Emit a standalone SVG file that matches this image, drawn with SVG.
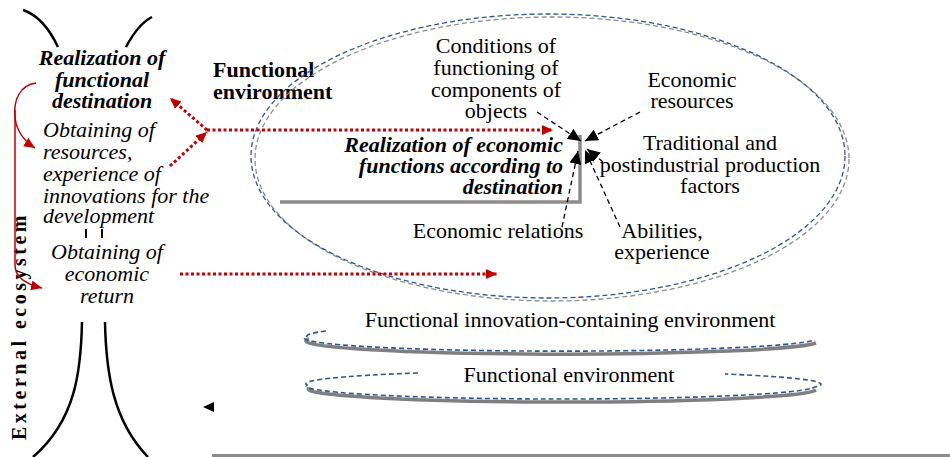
<svg xmlns="http://www.w3.org/2000/svg" width="950" height="457" viewBox="0 0 950 457">
<style>
text{font-family:"Liberation Serif","Times New Roman",serif;fill:#000}
.r{font-size:22px}
.bi{font-size:22px;font-weight:bold;font-style:italic}
.it{font-size:22px;font-style:italic}
.b{font-size:22px;font-weight:bold}
.blk{fill:none;stroke:#000;stroke-width:2.5}
.dot{fill:none;stroke:#c00000;stroke-width:3;stroke-dasharray:3 2.5}
.thin{fill:none;stroke:#c00000;stroke-width:1.5}
.dash{fill:none;stroke:#000;stroke-width:1.3;stroke-dasharray:5 3.5}
.eb{fill:none;stroke:#2f5597;stroke-width:1.3;stroke-dasharray:5 3}
.eg{fill:none;stroke:#8c8c8c;stroke-width:1.3;stroke-dasharray:5 3}
.sh{fill:none;stroke:#7f7f7f;stroke-width:3.5}
</style>
<defs>
<marker id="ra" markerUnits="userSpaceOnUse" markerWidth="12" markerHeight="10" refX="11" refY="5" orient="auto"><path d="M0,0 L11,5 L0,10 z" fill="#c00000"/></marker>
<marker id="ba" markerUnits="userSpaceOnUse" markerWidth="14" markerHeight="12" refX="13" refY="6" orient="auto"><path d="M0,0 L13,6 L0,12 z" fill="#000"/></marker>
</defs>

<g id="ecosystem">
<path class="blk" d="M23,10 C35,14 48,26 58,47"/>
<path class="blk" d="M152,17 C142,22 134,32 126,47"/>
<path class="blk" d="M82,322 C81,370 76,420 33,457"/>
<path class="blk" d="M105,322 C106,370 112,420 148,457"/>
<text class="b" style="font-size:20px" letter-spacing="3.5" transform="translate(26,440) rotate(-90)">External ecosystem</text>
</g>

<g id="realization-destination">
<text class="bi" text-anchor="middle"><tspan x="102" y="65">Realization of</tspan><tspan x="102" y="87">functional</tspan><tspan x="102" y="108">destination</tspan></text>
</g>

<g id="obtaining-resources">
<text class="it"><tspan x="43" y="137">Obtaining of</tspan><tspan x="43" y="159">resources,</tspan><tspan x="43" y="181">experience of</tspan><tspan x="43" y="203">innovations for the</tspan><tspan x="43" y="223">development</tspan></text>
<path d="M86,229 V238 M102,229 V238" stroke="#000" stroke-width="2"/>
</g>

<g id="obtaining-return">
<text class="it" text-anchor="middle"><tspan x="107" y="259">Obtaining of</tspan><tspan x="107" y="281">economic</tspan><tspan x="107" y="303">return</tspan></text>
</g>

<g id="functional-environment-label">
<text class="b"><tspan x="213" y="77">Functional</tspan><tspan x="213" y="99">environment</tspan></text>
</g>

<g id="functional-environment-ellipse">
<ellipse class="eg" cx="552" cy="159" rx="297" ry="142"/>
<ellipse class="eb" cx="548" cy="156" rx="297" ry="142"/>
</g>

<g id="economic-functions">
<path d="M280,202 H580 V135" fill="none" stroke="#8c8c8c" stroke-width="3.5"/>
<text class="bi" text-anchor="end"><tspan x="563" y="152">Realization of economic</tspan><tspan x="563" y="173">functions according to</tspan><tspan x="563" y="194">destination</tspan></text>
</g>

<g id="conditions">
<text class="r" text-anchor="middle"><tspan x="496" y="53">Conditions of</tspan><tspan x="496" y="75">functioning of</tspan><tspan x="496" y="97">components of</tspan><tspan x="496" y="118">objects</tspan></text>
</g>

<g id="resources">
<text class="r" text-anchor="middle"><tspan x="692" y="87">Economic</tspan><tspan x="692" y="108">resources</tspan></text>
</g>

<g id="factors">
<text class="r" text-anchor="middle"><tspan x="710" y="150">Traditional and</tspan><tspan x="710" y="172">postindustrial production</tspan><tspan x="710" y="193">factors</tspan></text>
</g>

<g id="abilities">
<text class="r" text-anchor="middle"><tspan x="662" y="238">Abilities,</tspan><tspan x="662" y="259">experience</tspan></text>
</g>

<g id="relations">
<text class="r" text-anchor="middle" x="498" y="238">Economic relations</text>
</g>

<g id="innovation-environment">
<path class="sh" d="M309,339 A254,13 0 0 0 816,343"/>
<path class="eb" d="M326,331 A254,13 0 0 0 307,336 A254,13 0 0 0 815,340" style="stroke-width:1.6"/>
<text class="r" text-anchor="middle" x="570" y="327">Functional innovation-containing environment</text>
</g>

<g id="functional-environment-base">
<path class="sh" d="M309,388 A254,13 0 0 0 816,390"/>
<path class="eb" d="M418,373 A254,13 0 0 0 307,385 A254,13 0 0 0 815,387 A254,13 0 0 0 725,374" style="stroke-width:1.6"/>
<text class="r" text-anchor="middle" x="569" y="382">Functional environment</text>
</g>

<g id="connectors">
<path class="dot" d="M207,130 H553" marker-end="url(#ra)"/>
<path class="dot" d="M207,130 L170,98" marker-end="url(#ra)"/>
<path class="dot" d="M170,166 L207,132" marker-end="url(#ra)"/>
<path class="dot" d="M180,274 H497" marker-end="url(#ra)"/>
<path class="thin" d="M36,83 C20,85 13,100 15,118 C17,132 24,141 35,148" marker-end="url(#ra)"/>
<path class="thin" d="M15,110 L15,265 C15,277 25,284 42,288" marker-end="url(#ra)"/>
<path class="dash" d="M537,112 L581,141" marker-end="url(#ba)"/>
<path class="dash" d="M640,112 L585,141" marker-end="url(#ba)"/>
<path class="dash" d="M603,162 L587,149" marker-end="url(#ba)"/>
<path class="dash" d="M620,227 L585,150" marker-end="url(#ba)"/>
<path class="dash" d="M562,227 L578,151" marker-end="url(#ba)"/>
<path d="M214,402 L203,407 L214,412 z" fill="#000"/>
<path d="M212,455.5 H950" stroke="#8c8c8c" stroke-width="3"/>
</g>
</svg>
